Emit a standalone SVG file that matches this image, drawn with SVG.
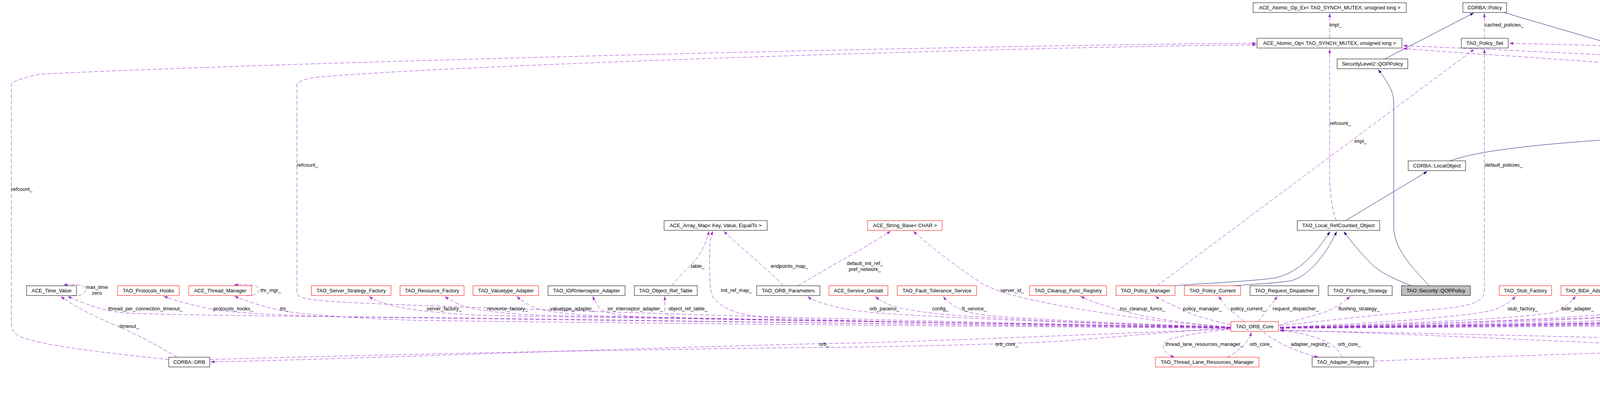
<svg xmlns="http://www.w3.org/2000/svg" width="6257" height="1040" viewBox="0 0 6257 1040">
<style>
.node rect{fill:#fff;stroke:#000;stroke-width:1}
.node.red rect{stroke:#f00}
.node.gray rect{fill:#bfbfbf}
.node text{font-family:"Liberation Sans",Arial,sans-serif;font-size:13px;text-anchor:middle;fill:#000}
.u{fill:none;stroke:#9a32cd;stroke-width:1;stroke-dasharray:10,5;marker-end:url(#au)}
.i{fill:none;stroke:#191970;stroke-width:1;marker-end:url(#ai)}
.lbl text{font-family:"Liberation Sans",Arial,sans-serif;font-size:13px;text-anchor:middle;fill:#000}
.lbl text.s{text-anchor:start}
</style>
<defs>
<marker id="au" viewBox="0 0 10 7" refX="10" refY="3.5" markerWidth="10" markerHeight="7" markerUnits="userSpaceOnUse" orient="auto"><path d="M0,0L10,3.5L0,7z" fill="#9a32cd"/></marker>
<marker id="ai" viewBox="0 0 10 7" refX="10" refY="3.5" markerWidth="10" markerHeight="7" markerUnits="userSpaceOnUse" orient="auto"><path d="M0,0L10,3.5L0,7z" fill="#191970"/></marker>
</defs>
<rect width="6257" height="1040" fill="#fff"/>

<g id="connectors">
<path class="i" d="M3545,151 L3773,33"/>
<path class="i" d="M3850,32 L4777,304"/>
<path class="i" d="M3712,412 C3800,380 4000,365 4200,352 C4400,340 4600,327 4763,320"/>
<path class="i" d="M3445,565 L3654,439"/>
<path class="i" d="M3659,732 C3620,690 3568,640 3568,580 L3568,262 C3568,230 3545,200 3528,178"/>
<path class="i" d="M3614,732 C3570,715 3535,700 3510,675 C3485,650 3460,620 3440,593"/>
<path class="i" d="M3007,732 C3060,727 3150,724 3250,714 C3330,706 3380,630 3405,593"/>
<path class="i" d="M3159,732 C3200,728 3280,725 3310,718 C3360,700 3400,640 3422,593"/>
<path class="i" d="M5176,254 L5176,126"/>
<path class="u" d="M432,921 C230,900 70,880 40,855 C30,845 29,838 29,825 L29,214 C40,205 70,197 100,190 C700,160 2500,115 3216,111"/>
<path class="u" d="M3151,838 C2500,830 1200,790 900,775 C800,770 760,765 760,750 L760,215 C770,205 790,200 817,197 C1200,165 2600,120 3216,115"/>
<path class="u" d="M3151,843 C2700,860 2300,878 2110,880 C1500,895 900,920 539,927"/>
<path class="u" d="M537,921 C900,910 1600,895 2100,890 C2400,887 2577,880 2700,875 C2900,860 3050,845 3149,840"/>
<path class="u" d="M453,915 C420,895 360,860 300,835 C240,810 180,780 156,759"/>
<path class="u" d="M3151,840 C2400,832 1300,815 1050,813 C700,810 400,806 330,802 C280,800 230,785 173,759"/>
<path class="u" d="M185,757 C205,760 219,752 219,742 C219,730 200,727 162,730"/>
<path class="u" d="M630,757 C650,759 663,752 663,743 C663,731 645,727 599,730"/>
<path class="u" d="M3151,841 C2400,835 1300,825 1050,820 C900,815 780,805 735,798 C690,790 640,775 600,759"/>
<path class="u" d="M3151,839 C2300,830 1300,818 900,812 C700,808 600,800 560,795 C500,785 450,770 419,759"/>
<path class="u" d="M3151,838 C2500,828 1600,815 1250,808 C1150,805 1050,795 1000,782 C975,775 955,767 945,759"/>
<path class="u" d="M3151,838 C2500,828 1700,815 1400,808 C1300,805 1220,795 1190,785 C1165,776 1150,768 1139,759"/>
<path class="u" d="M3151,838 C2500,828 1800,816 1550,810 C1450,806 1380,795 1360,785 C1345,776 1332,768 1323,759"/>
<path class="u" d="M3151,838 C2600,830 1900,818 1650,812 C1580,810 1545,800 1535,790 C1528,780 1522,770 1517,759"/>
<path class="u" d="M3151,838 C2600,830 1950,820 1760,815 C1720,813 1702,808 1702,795 L1702,759"/>
<path class="u" d="M1719,732 C1740,705 1770,680 1785,660 C1800,640 1810,615 1815,592"/>
<path class="u" d="M3151,838 C2500,830 2050,820 1950,812 C1880,805 1840,785 1825,760 C1815,740 1817,700 1817,640 C1817,620 1820,605 1825,592"/>
<path class="u" d="M2004,732 C1990,712 1960,690 1940,670 C1900,635 1870,610 1853,592"/>
<path class="u" d="M2042,732 C2080,710 2130,680 2170,658 C2220,630 2260,605 2280,592"/>
<path class="u" d="M3151,838 C3000,830 2800,800 2700,780 C2620,765 2560,750 2515,727 C2460,690 2390,640 2338,592"/>
<path class="u" d="M3151,838 C2800,830 2450,815 2300,805 C2200,800 2150,790 2110,778 C2090,772 2075,766 2068,759"/>
<path class="u" d="M3151,838 C2800,830 2550,815 2450,808 C2350,800 2300,790 2275,780 C2260,773 2248,766 2241,759"/>
<path class="u" d="M3151,838 C2900,830 2650,818 2550,810 C2490,805 2460,795 2445,785 C2430,775 2420,767 2415,759"/>
<path class="u" d="M3151,838 C3050,830 2970,818 2930,810 C2860,795 2800,775 2766,759"/>
<path class="u" d="M3151,832 C3100,820 3060,810 3030,795 C3000,780 2975,770 2957,759"/>
<path class="u" d="M3185,824 C3170,810 3150,795 3140,785 C3130,775 3124,765 3119,759"/>
<path class="u" d="M3221,824 C3235,805 3255,780 3270,759"/>
<path class="u" d="M3273,834 C3300,825 3350,812 3390,800 C3420,790 3445,770 3456,759"/>
<path class="u" d="M3277,834 C3400,820 3550,805 3700,790 C3770,783 3800,770 3800,745 L3800,126"/>
<path class="u" d="M2962,732 L3774,126"/>
<path class="u" d="M3421,565 C3412,540 3404,500 3404,450 L3404,126"/>
<path class="u" d="M3404,98 L3404,34"/>
<path class="u" d="M3800,98 L3800,34"/>
<path class="u" d="M5703,210 C5500,190 5300,172 5000,155 C4600,133 4200,118 3864,111"/>
<path class="u" d="M5703,214 C5400,200 5000,182 4760,172 C4300,150 3800,125 3592,117"/>
<path class="u" d="M4704,208 C4500,190 4100,158 3780,138 C3700,133 3630,127 3592,124"/>
<path class="u" d="M4762,203 C4745,190 4735,160 4730,126"/>
<path class="u" d="M4819,305 C4812,285 4806,260 4803,230"/>
<path class="u" d="M4856,305 C4930,255 5060,175 5151,125"/>
<path class="u" d="M4879,313 C5100,300 5400,270 5500,258 C5600,245 5670,232 5701,226"/>
<path class="u" d="M5702,207 C5550,185 5350,145 5219,120"/>
<path class="u" d="M5744,203 L5744,125"/>
<path class="u" d="M5787,204 C5850,180 5930,150 5975,125"/>
<path class="u" d="M3277,840 C4000,835 5300,820 5560,800 C5600,780 5620,735 5680,712 C5760,700 5900,700 5990,680 C6050,650 6060,600 6060,550 L6060,220 C6060,190 6040,160 6024,126"/>
<path class="u" d="M3277,838 C4000,832 4800,820 5000,805 C5050,795 5060,770 5058,750 C5055,720 5020,690 4990,665 C4930,580 4870,420 4833,333"/>
<path class="u" d="M4821,331 L4821,750 C4821,770 4780,778 4700,785 C4300,810 3600,830 3276,841"/>
<path class="u" d="M3277,838 C4200,830 4900,815 5060,790 C5130,760 5170,700 5185,600 C5193,520 5192,400 5190,340 C5188,310 5183,295 5179,281"/>
<path class="u" d="M3277,838 C3500,830 3750,812 3820,795 C3850,785 3868,772 3880,759"/>
<path class="u" d="M3277,838 C3600,830 3900,815 3980,800 C4005,790 4020,775 4034,759"/>
<path class="u" d="M3277,839 C3700,830 4050,815 4150,800 C4180,790 4198,775 4210,759"/>
<path class="u" d="M3277,839 C3800,832 4150,815 4270,800 C4340,790 4400,775 4431,759"/>
<path class="u" d="M3277,840 C3900,832 4350,815 4500,800 C4580,792 4630,775 4659,759"/>
<path class="u" d="M3277,840 C4000,832 4600,815 4800,800 C4860,792 4900,775 4920,759"/>
<path class="u" d="M3277,840 C4100,832 4800,818 5050,808 C5130,802 5190,780 5215,759"/>
<path class="u" d="M3277,840 C4200,835 5000,820 5250,805 C5330,798 5390,778 5428,759"/>
<path class="u" d="M3277,841 C4300,836 5200,825 5550,812 C5610,805 5650,780 5682,759"/>
<path class="u" d="M3518,925 C4000,905 5000,880 5550,845 C5650,835 5710,800 5726,759"/>
<path class="u" d="M3150,843 C3050,855 2985,865 2980,880 C2975,900 2990,910 3007,915"/>
<path class="u" d="M3141,915 C3170,900 3195,880 3204,851"/>
<path class="u" d="M3235,851 C3270,880 3330,905 3375,915"/>
<path class="u" d="M3436,915 C3420,880 3380,860 3276,845"/>
<path class="u" d="M5097,922 C4900,913 4500,895 4318,888 C4000,875 3500,850 3276,846"/>
<path class="u" d="M5859,925 C5500,918 5100,895 4800,885 C4300,868 3600,852 3276,847"/>
<path class="u" d="M5763,229 C5790,250 5818,280 5820,310 L5826,720 C5826,770 5800,820 5740,860 C5660,900 5450,915 5279,922"/>
<path class="u" d="M5788,220 C5850,232 5920,250 5930,300 L5930,850 C5930,880 5920,900 5912,914"/>
<path class="u" d="M5788,223 C5850,235 5900,245 5920,260 C5980,350 6050,500 6100,640 C6108,660 6108,680 6108,700 L6108,935 C6108,975 6050,1000 6003,1006"/>
<path class="u" d="M5900,915 C5870,870 5840,810 5800,750 C5700,600 5500,350 5380,280 C5300,240 5100,232 4897,225"/>
<path class="u" d="M5927,941 C5940,965 5958,990 5968,1006"/>
<path class="u" d="M5920,1007 C5900,995 5890,975 5893,960 L5897,942"/>
<path class="u" d="M6003,1032 C6030,1040 6050,1035 6050,1020 C6050,1008 6045,1004 6033,1006"/>
</g>

<g id="labels" class="lbl">
<text x="372" y="795">thread_per_connection_timeout_</text>
<text x="597" y="795">protocols_hooks_</text>
<text x="728" y="795">tm_</text>
<text x="1137" y="795">server_factory_</text>
<text x="1299" y="795">resource_factory_</text>
<text x="1465" y="795">valuetype_adapter_</text>
<text x="1626" y="795">ior_interceptor_adapter_</text>
<text x="1761" y="795">object_ref_table_</text>
<text x="2264" y="795">orb_params_</text>
<text x="2407" y="795">config_</text>
<text x="2494" y="795">ft_service_</text>
<text x="2925" y="795">tss_cleanup_funcs_</text>
<text x="3078" y="795">policy_manager_</text>
<text x="3195" y="795">policy_current_</text>
<text x="3317" y="795">request_dispatcher_</text>
<text x="3479" y="795">flushing_strategy_</text>
<text x="3898" y="795">stub_factory_</text>
<text x="4039" y="795">bidir_adapter_</text>
<text x="4206" y="795">client_factory_</text>
<text x="4432" y="795">endpoint_selector_factory_</text>
<text x="4653" y="795">codeset_manager_</text>
<text x="4951" y="795">collocation_resolver_</text>
<text x="5237" y="795">parser_registry_</text>
<text x="5470" y="795">network_priority_protocols_hooks_</text>
<text x="5676" y="795">poa_adapter_</text>
<text x="2110" y="886">orb_</text>
<text x="2577" y="886">orb_core_</text>
<text x="3083" y="886">thread_lane_resources_manager_</text>
<text x="3228" y="886">orb_core_</text>
<text x="3355" y="886">adapter_registry_</text>
<text x="3454" y="886">orb_core_</text>
<text x="4318" y="886">p_</text>
<text x="4800" y="886">orb_core_</text>
<text x="331" y="840">timeout_</text>
<text x="5688" y="840">adapters_</text>
<text x="248" y="740">max_time</text>
<text x="248" y="755">zero</text>
<text x="693" y="748">thr_mgr_</text>
<text x="1885" y="748">init_ref_map_</text>
<text x="2591" y="748">server_id_</text>
<text x="1786" y="686">table_</text>
<text x="2021" y="686">endpoints_map_</text>
<text x="2214" y="679">default_init_ref_</text>
<text x="2214" y="694">pref_network_</text>
<text class="s" x="29" y="489">refcount_</text>
<text class="s" x="760" y="427">refcount_</text>
<text class="s" x="3404" y="68">impl_</text>
<text class="s" x="3801" y="68">cached_policies_</text>
<text class="s" x="3404" y="320">refcount_</text>
<text x="3483" y="366">impl_</text>
<text class="s" x="3801" y="427">default_policies_</text>
<text x="4318" y="165">mutex_refcount_</text>
<text x="4777" y="165">null_refcount_</text>
<text x="4863" y="165">refcount_</text>
<text x="5072" y="218">object_init_lock_</text>
<text x="4842" y="269">refcount_</text>
<text x="4850" y="580">orb_core_</text>
<text x="5048" y="530">pi_current_</text>
<text x="5048" y="544">ior_manip_factory_</text>
<text x="5048" y="559">ior_table_</text>
<text x="5048" y="574">typecode_factory_</text>
<text x="5048" y="588">implrepo_service_</text>
<text x="5048" y="603">codec_factory_</text>
<text x="5048" y="618">compression_manager_</text>
<text x="5048" y="632">dynany_factory_</text>
<text x="5244" y="489">data_block_lock_</text>
<text x="5307" y="165">policies_</text>
<text x="5575" y="165">profile_lock_ptr_</text>
<text x="5803" y="165">collocated_servant_</text>
<text x="5972" y="160">servant_orb_</text>
<text x="5972" y="174">orb_</text>
<text x="5593" y="269">protocol_proxy_</text>
<text x="6096" y="405">rt_orb_</text>
<text x="6096" y="421">poa_current_</text>
<text x="6096" y="435">rt_current_</text>
<text x="6096" y="450">root_poa_</text>
<text x="5764" y="580">refcount_</text>
<text x="5857" y="580">orb_core_</text>
<text x="5976" y="580">profile_in_use_</text>
<text x="6178" y="671">forward_profiles_</text>
<text x="6178" y="686">forward_profiles_perm_</text>
<text x="6178" y="701">base_profiles_</text>
<text x="5916" y="977">pfiles_</text>
<text x="5989" y="977">forward_to_</text>
<text x="6095" y="1022">forward_from_</text>
</g>

<g id="n_ACE_Time_Value" class="node"><rect x="68" y="732" width="128" height="25"/><text x="132" y="749">ACE_Time_Value</text></g>
<g id="n_TAO_Protocols_Hooks" class="node red"><rect x="301" y="732" width="158" height="25"/><text x="380" y="749">TAO_Protocols_Hooks</text></g>
<g id="n_ACE_Thread_Manager" class="node red"><rect x="483" y="732" width="161" height="25"/><text x="563.5" y="749">ACE_Thread_Manager</text></g>
<g id="n_TAO_Server_Strategy_Factory" class="node red"><rect x="797" y="732" width="204" height="25"/><text x="899" y="749">TAO_Server_Strategy_Factory</text></g>
<g id="n_TAO_Resource_Factory" class="node red"><rect x="1024" y="732" width="164" height="25"/><text x="1106" y="749">TAO_Resource_Factory</text></g>
<g id="n_TAO_Valuetype_Adapter" class="node red"><rect x="1211" y="732" width="168" height="25"/><text x="1295" y="749">TAO_Valuetype_Adapter</text></g>
<g id="n_TAO_IORInterceptor_Adapter" class="node"><rect x="1403" y="732" width="197" height="25"/><text x="1501.5" y="749">TAO_IORInterceptor_Adapter</text></g>
<g id="n_TAO_Object_Ref_Table" class="node"><rect x="1624" y="732" width="161" height="25"/><text x="1704.5" y="749">TAO_Object_Ref_Table</text></g>
<g id="n_TAO_ORB_Parameters" class="node"><rect x="1937" y="732" width="162" height="25"/><text x="2018" y="749">TAO_ORB_Parameters</text></g>
<g id="n_ACE_Service_Gestalt" class="node red"><rect x="2122" y="732" width="151" height="25"/><text x="2197.5" y="749">ACE_Service_Gestalt</text></g>
<g id="n_TAO_Fault_Tolerance_Service" class="node red"><rect x="2297" y="732" width="203" height="25"/><text x="2398.5" y="749">TAO_Fault_Tolerance_Service</text></g>
<g id="n_TAO_Cleanup_Func_Registry" class="node red"><rect x="2636" y="732" width="197" height="25"/><text x="2734.5" y="749">TAO_Cleanup_Func_Registry</text></g>
<g id="n_TAO_Policy_Manager" class="node red"><rect x="2857" y="732" width="151" height="25"/><text x="2932.5" y="749">TAO_Policy_Manager</text></g>
<g id="n_TAO_Policy_Current" class="node red"><rect x="3032" y="732" width="144" height="25"/><text x="3104" y="749">TAO_Policy_Current</text></g>
<g id="n_TAO_Request_Dispatcher" class="node"><rect x="3200" y="732" width="176" height="25"/><text x="3288" y="749">TAO_Request_Dispatcher</text></g>
<g id="n_TAO_Flushing_Strategy" class="node"><rect x="3400" y="732" width="164" height="25"/><text x="3482" y="749">TAO_Flushing_Strategy</text></g>
<g id="n_TAO_Security_QOPPolicy" class="node gray"><rect x="3588" y="732" width="176" height="25"/><text x="3676" y="749">TAO::Security::QOPPolicy</text></g>
<g id="n_TAO_Stub_Factory" class="node red"><rect x="3838" y="732" width="134" height="25"/><text x="3905" y="749">TAO_Stub_Factory</text></g>
<g id="n_TAO_BiDir_Adapter" class="node red"><rect x="3996" y="732" width="137" height="25"/><text x="4064.5" y="749">TAO_BiDir_Adapter</text></g>
<g id="n_TAO_Client_Strategy_Factory" class="node red"><rect x="4158" y="732" width="198" height="25"/><text x="4257" y="749">TAO_Client_Strategy_Factory</text></g>
<g id="n_TAO_Endpoint_Selector_Factory" class="node red"><rect x="4380" y="732" width="216" height="25"/><text x="4488" y="749">TAO_Endpoint_Selector_Factory</text></g>
<g id="n_TAO_Codeset_Manager" class="node"><rect x="4620" y="732" width="164" height="25"/><text x="4702" y="749">TAO_Codeset_Manager</text></g>
<g id="n_TAO_Collocation_Resolver" class="node red"><rect x="4860" y="732" width="180" height="25"/><text x="4950" y="749">TAO_Collocation_Resolver</text></g>
<g id="n_TAO_Parser_Registry" class="node red"><rect x="5166" y="732" width="150" height="25"/><text x="5241" y="749">TAO_Parser_Registry</text></g>
<g id="n_TAO_Network_Priority_Protocols_Hooks" class="node red"><rect x="5340" y="732" width="261" height="25"/><text x="5470.5" y="749">TAO_Network_Priority_Protocols_Hooks</text></g>
<g id="n_TAO_Adapter" class="node"><rect x="5676" y="732" width="101" height="25"/><text x="5726.5" y="749">TAO_Adapter</text></g>

<g id="n_ACE_Array_Map" class="node"><rect x="1700" y="565" width="264" height="25"/><text x="1832" y="582">ACE_Array_Map&lt; Key, Value, EqualTo &gt;</text></g>
<g id="n_ACE_String_Base" class="node red"><rect x="2221" y="565" width="191" height="25"/><text x="2316.5" y="582">ACE_String_Base&lt; CHAR &gt;</text></g>
<g id="n_TAO_Local_RefCounted_Object" class="node"><rect x="3321" y="565" width="211" height="25"/><text x="3426.5" y="582">TAO_Local_RefCounted_Object</text></g>

<g id="n_ACE_Atomic_Op_Ex" class="node"><rect x="3208" y="7" width="392" height="25"/><text x="3404" y="24">ACE_Atomic_Op_Ex&lt; TAO_SYNCH_MUTEX, unsigned long &gt;</text></g>
<g id="n_CORBA_Policy" class="node"><rect x="3745" y="7" width="112" height="25"/><text x="3801" y="24">CORBA::Policy</text></g>
<g id="n_ACE_Atomic_Op" class="node"><rect x="3218" y="98" width="371" height="25"/><text x="3403.5" y="115">ACE_Atomic_Op&lt; TAO_SYNCH_MUTEX, unsigned long &gt;</text></g>
<g id="n_TAO_Policy_Set" class="node"><rect x="3741" y="98" width="120" height="25"/><text x="3801" y="115">TAO_Policy_Set</text></g>
<g id="n_ACE_Atomic_Op_Null" class="node red"><rect x="4527" y="98" width="414" height="25"/><text x="4734" y="115">ACE_Atomic_Op&lt; ACE_SYNCH_NULL_MUTEX, unsigned long &gt;</text></g>
<g id="n_ACE_Lock" class="node"><rect x="5133" y="98" width="84" height="25"/><text x="5175" y="115">ACE_Lock</text></g>
<g id="n_TAO_Abstract_ServantBase" class="node"><rect x="5650" y="98" width="189" height="25"/><text x="5744.5" y="115">TAO_Abstract_ServantBase</text></g>
<g id="n_TAO_Pseudo_Var_T" class="node red"><rect x="5917" y="98" width="175" height="25"/><text x="6004.5" y="115">TAO_Pseudo_Var_T&lt; T &gt;</text></g>
<g id="n_SecurityLevel2_QOPPolicy" class="node"><rect x="3423" y="151" width="181" height="25"/><text x="3513.5" y="168">SecurityLevel2::QOPPolicy</text></g>
<g id="n_TAO_Configurable_Refcount" class="node"><rect x="4704" y="203" width="191" height="25"/><text x="4799.5" y="220">TAO_Configurable_Refcount</text></g>
<g id="n_TAO_Stub" class="node"><rect x="5703" y="203" width="84" height="25"/><text x="5745" y="220">TAO_Stub</text></g>
<g id="n_ACE_Lock_Adapter" class="node"><rect x="5028" y="254" width="295" height="25"/><text x="5175.5" y="271">ACE_Lock_Adapter&lt; TAO_SYNCH_MUTEX &gt;</text></g>
<g id="n_CORBA_Object" class="node"><rect x="4765" y="305" width="114" height="25"/><text x="4822" y="322">CORBA::Object</text></g>
<g id="n_CORBA_LocalObject" class="node"><rect x="3605" y="412" width="147" height="25"/><text x="3678.5" y="429">CORBA::LocalObject</text></g>
<g id="n_TAO_ORB_Core" class="node red"><rect x="3151" y="824" width="122" height="25"/><text x="3212" y="841">TAO_ORB_Core</text></g>
<g id="n_CORBA_ORB" class="node"><rect x="432" y="915" width="105" height="25"/><text x="484.5" y="932">CORBA::ORB</text></g>
<g id="n_TAO_Thread_Lane_Resources_Manager" class="node red"><rect x="2958" y="915" width="265" height="25"/><text x="3090.5" y="932">TAO_Thread_Lane_Resources_Manager</text></g>
<g id="n_TAO_Adapter_Registry" class="node"><rect x="3359" y="915" width="158" height="25"/><text x="3438" y="932">TAO_Adapter_Registry</text></g>
<g id="n_TAO_ORB_Core_Auto_Ptr" class="node"><rect x="5097" y="915" width="180" height="25"/><text x="5187" y="932">TAO_ORB_Core_Auto_Ptr</text></g>
<g id="n_TAO_Profile" class="node red"><rect x="5859" y="915" width="94" height="25"/><text x="5906" y="932">TAO_Profile</text></g>
<g id="n_TAO_MProfile" class="node"><rect x="5924" y="1007" width="105" height="25"/><text x="5976.5" y="1024">TAO_MProfile</text></g>
</svg>
